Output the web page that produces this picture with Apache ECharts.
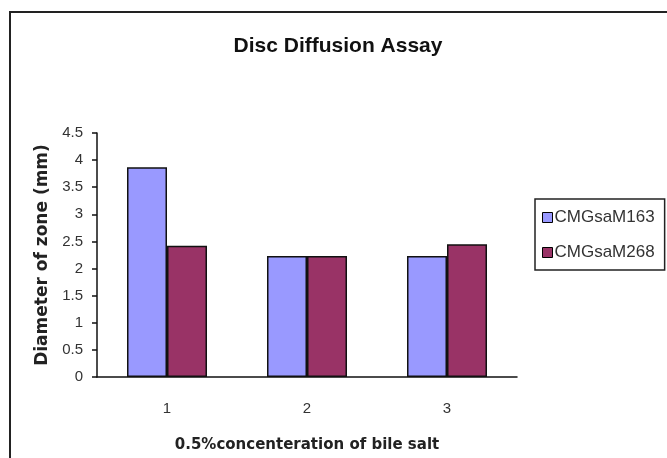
<!DOCTYPE html>
<html>
<head>
<meta charset="utf-8">
<script src="https://cdn.jsdelivr.net/npm/echarts@6/dist/echarts.min.js"></script>
<style>html,body{margin:0;padding:0;background:#fff;}#c{width:667px;height:458px;}</style>
</head>
<body>
<div id="c"></div>
<script>
const categories = ['1', '2', '3'];
const seriesNames = ['CMGsaM163', 'CMGsaM268'];
const valuesM163 = [3.87, 2.23, 2.23];
const valuesM268 = [2.42, 2.23, 2.45];
const yTicks = { min: 0, max: 4.5, interval: 0.5 };

const chart = echarts.init(document.getElementById('c'), null, { renderer: 'canvas' });
chart.setOption({
  animation: false,
  backgroundColor: '#fff',
  title: {
    text: 'Disc Diffusion Assay',
    left: 333, top: 31, textAlign: 'center',
    textStyle: { fontFamily: 'Arial, "Liberation Sans", sans-serif', fontWeight: 'bold', fontSize: 21, color: '#111' }
  },
  graphic: [{
    type: 'rect', shape: { x: 10, y: 12, width: 700, height: 500 },
    style: { fill: 'none', stroke: '#222', lineWidth: 2 }, silent: true, z: -1
  }],
  legend: {
    orient: 'vertical', left: 535, top: 199,
    data: seriesNames,
    itemWidth: 10, itemHeight: 10, itemGap: 18,
    padding: [10, 10, 9, 7],
    borderColor: '#222', borderWidth: 1.5,
    icon: 'rect',
    itemStyle: { borderColor: '#000', borderWidth: 1 },
    textStyle: { fontFamily: 'Arial, "Liberation Sans", sans-serif', fontSize: 17, color: '#333', padding: [0, 0, 0, -3] }
  },
  grid: { left: 97, top: 133, width: 420, height: 244 },
  xAxis: {
    type: 'category', data: categories,
    name: '0.5%concenteration of bile salt', nameLocation: 'middle', nameGap: 61,
    nameTextStyle: { fontFamily: '"DejaVu Sans", Arial, sans-serif', fontWeight: 'bold', fontSize: 15, color: '#222' },
    axisLine: { lineStyle: { color: '#111', width: 1.5 } },
    axisTick: { length: 5, lineStyle: { color: '#111', width: 1.5 } },
    axisLabel: { fontFamily: 'Arial, "Liberation Sans", sans-serif', fontSize: 15, color: '#333', margin: 24 }
  },
  yAxis: {
    type: 'value', min: yTicks.min, max: yTicks.max, interval: yTicks.interval,
    name: 'Diameter of zone (mm)', nameLocation: 'middle', nameGap: 46, nameRotate: 90,
    nameTextStyle: { fontFamily: '"DejaVu Sans", Arial, sans-serif', fontWeight: 'bold', fontSize: 17, color: '#222' },
    axisLine: { show: true, lineStyle: { color: '#111', width: 1.5 } },
    axisTick: { show: true, length: 5, lineStyle: { color: '#111', width: 1.5 } },
    splitLine: { show: false },
    axisLabel: { fontFamily: 'Arial, "Liberation Sans", sans-serif', fontSize: 15, color: '#333', margin: 14 }
  },
  series: [
    { name: seriesNames[0], type: 'bar', data: valuesM163, barWidth: 40, barGap: '0%',
      itemStyle: { color: '#9999FF', borderColor: '#111', borderWidth: 1.5 } },
    { name: seriesNames[1], type: 'bar', data: valuesM268, barWidth: 40, barGap: '0%',
      itemStyle: { color: '#993366', borderColor: '#111', borderWidth: 1.5 } }
  ]
});
</script>
</body>
</html>
